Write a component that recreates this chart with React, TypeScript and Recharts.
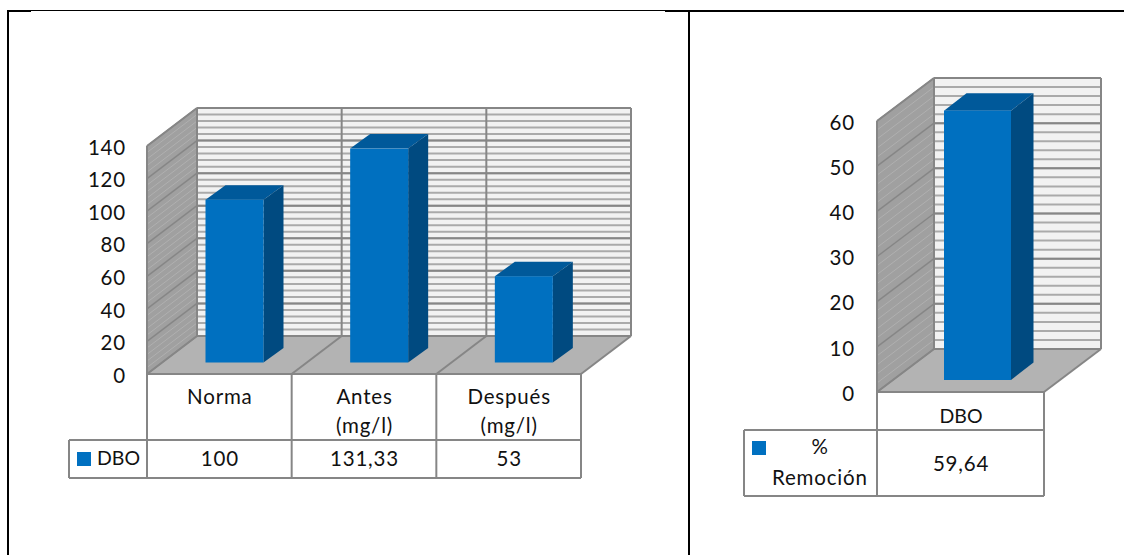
import React from 'react';
import { BarChart, Bar, XAxis, YAxis } from 'recharts';

// ---- data ----
const leftCategories = ['Norma', 'Antes (mg/l)', 'Después (mg/l)'];
const leftValues = [100, 131.33, 53];
const leftTicks = [0, 20, 40, 60, 80, 100, 120, 140];
const leftMinorTicks = [0, 4, 8, 12, 16, 20, 24, 28, 32, 36, 40, 44, 48, 52, 56, 60, 64, 68, 72, 76, 80, 84, 88, 92, 96, 100, 104, 108, 112, 116, 120, 124, 128, 132, 136, 140];
const leftSeriesName = ['DBO'];

const rightCategories = ['DBO'];
const rightValues = [59.64];
const rightTicks = [0, 10, 20, 30, 40, 50, 60];
const rightMinorTicks = [0, 2, 4, 6, 8, 10, 12, 14, 16, 18, 20, 22, 24, 26, 28, 30, 32, 34, 36, 38, 40, 42, 44, 46, 48, 50, 52, 54, 56, 58, 60];
const rightSeriesName = ['%', 'Remoción'];

const FONT = 'Lato, Carlito, Calibri, sans-serif';
const C = {
  front: '#0070c0', side: '#004a80', top: '#00599a',
  wall: '#f2f2f2', sideWall: '#a0a0a0', floor: '#b3b3b3',
  major: '#868686', minor: '#aaaaaa', sideMinor: '#b0b0b0', text: '#111',
};
const textStyle = { fontFamily: FONT, fontSize: 20.5, letterSpacing: 0.8, fill: C.text };
const capsStyle = { fontFamily: FONT, fontSize: 19.5, letterSpacing: 0, fill: C.text };
const styleFor = (t: string) => (t === t.toUpperCase() && /[A-Z]/.test(t) ? capsStyle : textStyle);

type Cfg = {
  left: number; width: number; x0: number; x1: number; yTop: number; yBottom: number;
  dx: number; dy: number; barW: number; shiftX: number; shiftY: number; sideX: number; sideY: number;
  max: number; ticks: number[]; minor: number[]; categories: string[]; values: number[];
  rowMid: number; rowEnd: number; legendX: number; swatchY: number; names: string[]; tickMargin: number;
  labelY: number; valueY: number; nameLayout: { x: number; y: number; anchor: string }[];
};

const fmt = (v: number) => String(v).replace('.', ',');

function Chart3D({ cfg }: { cfg: Cfg }) {
  const { left, width, x0, x1, yTop, yBottom, dx, dy, max, ticks, minor, categories, values } = cfg;
  const lx0 = x0 - left, lx1 = x1 - left;
  const yOf = (v: number) => yBottom - (v / max) * (yBottom - yTop);
  const band = (x1 - x0) / categories.length;
  const data = categories.map((name, i) => ({ name, value: values[i] }));
  const edges = [0, ...categories.map((_, i) => i + 1)].map((i) => lx0 + i * band);
  const axisW = 60;

  const Shape = (p: any) => {
    const x = p.x + cfg.shiftX, y = p.y - cfg.shiftY, w = p.width, h = p.height;
    const { sideX: sx, sideY: sy } = cfg;
    return (
      <g>
        <polygon points={`${x},${y} ${x + sx},${y - sy} ${x + w + sx},${y - sy} ${x + w},${y}`} fill={C.top} />
        <polygon points={`${x + w},${y} ${x + w + sx},${y - sy} ${x + w + sx},${y + h - sy} ${x + w},${y + h}`} fill={C.side} />
        <rect x={x} y={y} width={w} height={h} fill={C.front} />
      </g>
    );
  };

  const Tick = (p: any) => {
    const idx = p.index ?? p.payload.index;
    const words = String(p.payload.value).split(' ');
    return (
      <g textAnchor="middle">
        {words.map((t, i) => (
          <text key={i} x={p.x + 0.5} y={cfg.labelY + i * 29} dy="0.35em" {...styleFor(t)}>{t}</text>
        ))}
        <text x={p.x + 0.5} y={cfg.valueY} dy="0.35em" {...textStyle}>{fmt(values[idx])}</text>
      </g>
    );
  };

  const lineProps = { stroke: C.major, strokeWidth: 2, fill: 'none' };

  return (
    <BarChart
      width={width}
      height={555}
      data={data}
      style={{ position: 'absolute', left, top: 0 }}
      margin={{ top: yTop, bottom: 0, left: lx0 - axisW, right: width - lx1 }}
      barSize={cfg.barW}
    >
      {/* walls and floor */}
      <g>
        <polygon points={`${lx0 + dx},${yTop - dy} ${lx1 + dx},${yTop - dy} ${lx1 + dx},${yBottom - dy} ${lx0 + dx},${yBottom - dy}`} fill={C.wall} />
        <polygon points={`${lx0},${yTop} ${lx0 + dx},${yTop - dy} ${lx0 + dx},${yBottom - dy} ${lx0},${yBottom}`} fill={C.sideWall} />
        <polygon points={`${lx0},${yBottom} ${lx0 + dx},${yBottom - dy} ${lx1 + dx},${yBottom - dy} ${lx1},${yBottom}`} fill={C.floor} />
        {minor.map((v) => (
          <g key={v}>
            <line x1={lx0 + dx} x2={lx1 + dx} y1={yOf(v) - dy} y2={yOf(v) - dy} stroke={C.minor} strokeWidth={2} />
            <line x1={lx0} x2={lx0 + dx} y1={yOf(v)} y2={yOf(v) - dy} stroke={C.sideMinor} strokeWidth={1} />
          </g>
        ))}
        {ticks.map((v) => (
          <g key={v}>
            <line x1={lx0 + dx} x2={lx1 + dx} y1={yOf(v) - dy} y2={yOf(v) - dy} stroke={C.major} strokeWidth={2} />
            <line x1={lx0} x2={lx0 + dx} y1={yOf(v)} y2={yOf(v) - dy} stroke={C.major} strokeWidth={1.5} />
          </g>
        ))}
        {edges.map((e, i) => (
          <g key={i}>
            <line x1={e + dx} x2={e + dx} y1={yTop - dy} y2={yBottom - dy} {...lineProps} />
            <line x1={e} x2={e + dx} y1={yBottom} y2={yBottom - dy} {...lineProps} />
          </g>
        ))}
        <line x1={lx0} x2={lx0 + dx} y1={yTop} y2={yTop - dy} {...lineProps} />
        <line x1={lx0} x2={lx0} y1={yTop} y2={yBottom} {...lineProps} />
        <line x1={lx0} x2={lx1} y1={yBottom} y2={yBottom} {...lineProps} />
      </g>

      {/* data table grid */}
      <g>
        {edges.map((e, i) => (
          <line key={i} x1={e} x2={e} y1={yBottom} y2={cfg.rowEnd} {...lineProps} />
        ))}
        <line x1={cfg.legendX - left} x2={lx1} y1={cfg.rowMid} y2={cfg.rowMid} {...lineProps} />
        <line x1={cfg.legendX - left} x2={lx1} y1={cfg.rowEnd} y2={cfg.rowEnd} {...lineProps} />
        <line x1={cfg.legendX - left} x2={cfg.legendX - left} y1={cfg.rowMid} y2={cfg.rowEnd} {...lineProps} />
        <rect x={cfg.legendX - left + 8} y={cfg.swatchY} width={14} height={14} fill={C.front} />
        {cfg.names.map((n, i) => (
          <text key={n} x={cfg.nameLayout[i].x - left} y={cfg.nameLayout[i].y} dy="0.35em"
            textAnchor={cfg.nameLayout[i].anchor as any} {...styleFor(n)}>{n}</text>
        ))}
      </g>

      <XAxis
        dataKey="name"
        height={555 - yBottom}
        axisLine={false}
        tickLine={false}
        interval={0}
        tick={Tick}
      />
      <YAxis
        width={axisW}
        domain={[0, max]}
        ticks={ticks}
        interval={0}
        axisLine={false}
        tickLine={false}
        tickSize={0}
        tickMargin={cfg.tickMargin}
        tick={{ ...textStyle, dy: 1.5 }}
      />
      <Bar dataKey="value" isAnimationActive={false} shape={Shape} />
    </BarChart>
  );
}

const leftCfg: Cfg = {
  left: 0, width: 670, x0: 147, x1: 581, yTop: 146, yBottom: 374, dx: 50, dy: 38,
  barW: 58, shiftX: 15.5, shiftY: 11.5, sideX: 20, sideY: 14.5, max: 140, ticks: leftTicks, minor: leftMinorTicks,
  categories: leftCategories, values: leftValues, rowMid: 440, rowEnd: 478, legendX: 69, swatchY: 452,
  names: leftSeriesName, tickMargin: 21, labelY: 397, valueY: 459,
  nameLayout: [{ x: 97, y: 458, anchor: 'start' }],
};

const rightCfg: Cfg = {
  left: 695, width: 429, x0: 877, x1: 1044, yTop: 121, yBottom: 392, dx: 57, dy: 43,
  barW: 67, shiftX: 17, shiftY: 12, sideX: 22.5, sideY: 17.5, max: 60, ticks: rightTicks, minor: rightMinorTicks,
  categories: rightCategories, values: rightValues, rowMid: 430, rowEnd: 496, legendX: 744, swatchY: 441,
  names: rightSeriesName, tickMargin: 22, labelY: 416, valueY: 464,
  nameLayout: [{ x: 820, y: 447, anchor: 'middle' }, { x: 772, y: 478, anchor: 'start' }],
};

const rule = (s: React.CSSProperties) => <div style={{ position: 'absolute', background: '#000', ...s }} />;

export default function App() {
  return (
    <div style={{ position: 'absolute', left: 0, top: 0, width: 1124, height: 555, overflow: 'hidden', background: '#fff' }}>
      {rule({ left: 7, top: 10, width: 2, height: 545 })}
      {rule({ left: 688, top: 10, width: 2, height: 545 })}
      {rule({ left: 7, top: 10, width: 24, height: 2 })}
      {rule({ left: 31, top: 10, width: 634, height: 1 })}
      {rule({ left: 665, top: 10, width: 459, height: 2 })}
      <Chart3D cfg={leftCfg} />
      <Chart3D cfg={rightCfg} />
    </div>
  );
}
